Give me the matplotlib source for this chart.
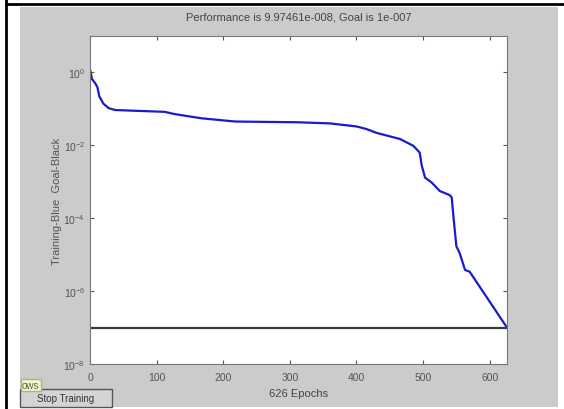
import numpy as np
import matplotlib
matplotlib.use('Agg')
import matplotlib.pyplot as plt
from matplotlib.patches import Rectangle
from matplotlib.lines import Line2D

# values (epoch, performance)
epochs = [0, 3, 8, 11, 14, 20, 28, 38, 112, 127, 168, 218, 310, 360, 400, 415,
          430, 465, 485, 490, 495, 498, 503, 513, 525, 540, 543, 546, 550,
          555, 563, 570, 626]
perf = [1.23, 0.66, 0.50, 0.40, 0.22, 0.14, 0.105, 0.093, 0.083, 0.072,
        0.055, 0.045, 0.043, 0.040, 0.033, 0.028, 0.022, 0.015, 0.0098,
        0.0079, 0.0063, 0.0028, 0.0013, 9.5e-4, 5.6e-4, 4.3e-4, 3.7e-4,
        9.3e-5, 1.7e-5, 1.1e-5, 3.8e-6, 3.4e-6, 9.97461e-8]
goal = 1e-7
n_epochs = 626
xticks = [0, 100, 200, 300, 400, 500, 600]
yticks = [1e-8, 1e-6, 1e-4, 1e-2, 1e0]
ytick_labels = [r'$10^{-8}$', r'$10^{-6}$', r'$10^{-4}$', r'$10^{-2}$', r'$10^{0}$']

plt.rcParams['font.family'] = ['Liberation Sans', 'DejaVu Sans']
plt.rcParams['mathtext.default'] = 'regular'

W, H = 564, 410
fig = plt.figure(figsize=(W / 100, H / 100), dpi=100, facecolor='white')

# window background and frame
fig.patches.append(Rectangle((20 / W, 2 / H), 538 / W, 400 / H, transform=fig.transFigure,
                             facecolor='#cbcbcb', edgecolor='none', zorder=-5))
fig.lines.append(Line2D([6 / W, 6 / W], [0, 1], transform=fig.transFigure, color='black', lw=2))
fig.lines.append(Line2D([6 / W, 1], [405 / H, 405 / H], transform=fig.transFigure, color='black', lw=2))

ax = fig.add_axes([90 / W, 45 / H, 417 / W, 328 / H])
ax.set_zorder(1)
ax.set_facecolor('white')
ax.plot(epochs, perf, color='#1a1ad0', lw=1.6)
ax.plot([0, n_epochs], [goal, goal], color='#3a3a3a', lw=1.6)
ax.set_yscale('log')
ax.set_xlim(0, n_epochs)
ax.set_ylim(1e-8, 1e1)
ax.set_xticks(xticks)
ax.set_yticks(yticks)
ax.set_yticklabels(ytick_labels)
ax.minorticks_off()
ax.tick_params(direction='in', top=True, right=True, length=3, labelsize=7.5,
               colors='#555555', labelcolor='#555555')
ax.tick_params(axis='x', pad=6)
for s in ax.spines.values():
    s.set_color('#777777')
ax.set_title('Performance is 9.97461e-008, Goal is 1e-007', fontsize=8, color='#444444', pad=12)
ax.set_xlabel('626 Epochs', fontsize=8, color='#444444', labelpad=4)
ax.set_ylabel('Training-Blue  Goal-Black', fontsize=8, color='#555555', labelpad=1)

# Stop Training button and tooltip fragment
fig.patches.append(Rectangle((20 / W, 2 / H), 92 / W, 18 / H, transform=fig.transFigure,
                             facecolor='#d4d4d4', edgecolor='#555555', lw=1, zorder=2))
fig.text(66 / W, 11 / H, 'Stop Training', fontsize=7, color='#333333', ha='center', va='center')
fig.text(22 / W, 24 / H, 'ows', fontsize=7, color='#556b2f', ha='left', va='center',
         bbox=dict(facecolor='#f4f4d0', edgecolor='#b0b080', pad=1))

fig.savefig('out.png', dpi=100, facecolor=fig.get_facecolor())
